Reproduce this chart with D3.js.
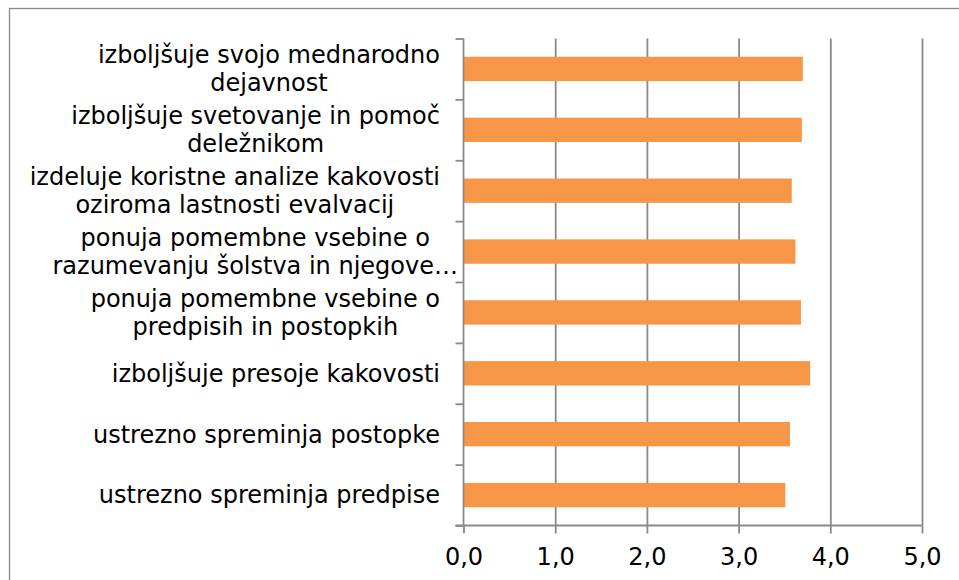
<!DOCTYPE html>
<html>
<head>
<meta charset="utf-8">
<script src="https://cdn.jsdelivr.net/npm/d3@7"></script>
<style>
  body { margin: 0; background: #fff; }
  svg { display: block; }
</style>
</head>
<body>
<div id="chart"></div>
<script>
// categories top to bottom, each split in its display lines
var categories = [
  ["izboljšuje svojo mednarodno", "dejavnost"],
  ["izboljšuje svetovanje in pomoč", "deležnikom"],
  ["izdeluje koristne analize kakovosti", "oziroma lastnosti evalvacij"],
  ["ponuja pomembne vsebine o", "razumevanju šolstva in njegove…"],
  ["ponuja pomembne vsebine o", "predpisih in postopkih"],
  ["izboljšuje presoje kakovosti"],
  ["ustrezno spreminja postopke"],
  ["ustrezno spreminja predpise"]
];
var values = [3.70, 3.69, 3.58, 3.62, 3.68, 3.78, 3.56, 3.51];
var tickValues = [0, 1, 2, 3, 4, 5];
var tickLabels = ["0,0", "1,0", "2,0", "3,0", "4,0", "5,0"];

var width = 959, height = 580;
var plotL = 463.5, plotR = 922, plotT = 38.5, plotB = 525.5;
var labelRight = 440;   // right edge of the category label block
var lineH = 28;         // spacing of wrapped label lines
var gray = "#898989";
var font = "'DejaVu Sans', Verdana, sans-serif";

var svg = d3.select("#chart").append("svg")
  .attr("width", width)
  .attr("height", height);

// outer chart frame (right and bottom edges run off the picture)
svg.append("rect")
  .attr("x", 9.5).attr("y", 8.5)
  .attr("width", width + 10).attr("height", height + 10)
  .attr("fill", "none")
  .attr("stroke", gray)
  .attr("stroke-width", 1.3);

var x = d3.scaleLinear().domain([0, 5]).range([plotL, plotR]);
var idx = d3.range(categories.length);
var y = d3.scaleBand().domain(idx).range([plotT, plotB]).paddingInner(0.6).paddingOuter(0.3);
// band boundaries, for the category tick marks
var yEdge = d3.scaleLinear().domain([0, categories.length]).range([plotT, plotB]);

// vertical gridlines
var grid = svg.append("g")
  .attr("transform", "translate(0," + plotB + ")")
  .call(d3.axisBottom(x).tickValues(tickValues.slice(1)).tickSize(-(plotB - plotT)).tickFormat(""));
grid.select(".domain").remove();
grid.selectAll("line").attr("stroke", gray).attr("stroke-width", 1.8);

// bars
svg.append("g").selectAll("rect")
  .data(values)
  .enter().append("rect")
  .attr("x", x(0))
  .attr("y", function (d, i) { return y(i); })
  .attr("width", function (d) { return x(d) - x(0); })
  .attr("height", y.bandwidth())
  .attr("fill", "#F79646");

// x axis
var xAxis = svg.append("g")
  .attr("transform", "translate(0," + plotB + ")")
  .call(d3.axisBottom(x).tickValues(tickValues).tickSize(8).tickPadding(14)
    .tickFormat(function (d, i) { return tickLabels[i]; }));
xAxis.select(".domain").remove();
xAxis.selectAll("line").attr("stroke", gray).attr("stroke-width", 1.8);
xAxis.selectAll("text")
  .attr("fill", "#000")
  .style("font-family", font)
  .style("font-size", "24px");
xAxis.append("line")
  .attr("x1", plotL - 8).attr("x2", plotR)
  .attr("stroke", gray).attr("stroke-width", 1.8);

// y axis with ticks between categories
var yAxis = svg.append("g")
  .attr("transform", "translate(" + plotL + ",0)")
  .call(d3.axisLeft(yEdge).ticks(categories.length).tickSize(8).tickFormat(""));
yAxis.select(".domain").attr("stroke", gray).attr("stroke-width", 1.8).attr("d", "M0," + plotT + "V" + plotB);
yAxis.selectAll("line").attr("stroke", gray).attr("stroke-width", 1.8);

// category labels: lines centred on each other, block right-aligned
var labels = svg.append("g")
  .style("font-family", font)
  .style("font-size", "24px")
  .attr("fill", "#000");

categories.forEach(function (lines, i) {
  var cy = y(i) + y.bandwidth() / 2;
  var g = labels.append("g");
  var texts = lines.map(function (t, j) {
    return g.append("text")
      .attr("text-anchor", "middle")
      .attr("y", cy + (j - (lines.length - 1) / 2) * lineH)
      .attr("dy", "0.35em")
      .text(t);
  });
  // a truncated label spills past the block edge, as in the original
  var maxW = d3.max(texts, function (t) {
    var w = t.node().getComputedTextLength();
    if (/…$/.test(t.text())) w -= 36;
    return w;
  });
  var cx = labelRight - maxW / 2;
  texts.forEach(function (t) { t.attr("x", cx); });
});
</script>
</body>
</html>
